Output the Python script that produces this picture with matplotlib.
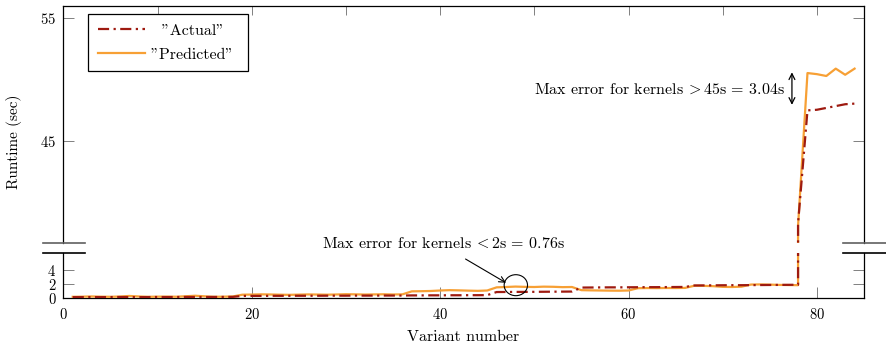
import matplotlib
matplotlib.use("Agg")
import matplotlib.pyplot as plt
from matplotlib.lines import Line2D
from matplotlib.patches import Ellipse

plt.rcParams['font.family'] = ['cmr10', 'DejaVu Serif']
plt.rcParams['mathtext.fontset'] = 'cm'
plt.rcParams['axes.formatter.use_mathtext'] = True
plt.rcParams['font.size'] = 10.5

# data (the jump to the long kernels happens right at variant 78)
variant = [1, 2, 3, 4, 5, 6, 7, 8, 9, 10, 11, 12, 13, 14, 15, 16, 17, 18,
           19, 20, 21, 22, 23, 24, 25, 26, 27, 28, 29, 30, 31, 32, 33, 34, 35, 36,
           37, 38, 39, 40, 41, 42, 43, 44, 45,
           46, 47, 48, 49, 50, 51, 52, 53, 54,
           55, 56, 57, 58, 59, 60, 61, 62, 63, 64, 65, 66,
           67, 68, 69, 70, 71, 72, 73, 74, 75, 76, 77, 78,
           78,
           79, 80, 81, 82, 83, 84]
actual = [0.05, 0.05, 0.06, 0.05, 0.06, 0.07, 0.06, 0.05, 0.06, 0.07, 0.06, 0.07, 0.08, 0.07, 0.07, 0.08, 0.08, 0.09,
          0.22, 0.23, 0.23, 0.24, 0.24, 0.24, 0.25, 0.25, 0.25, 0.26, 0.26, 0.26, 0.27, 0.27, 0.27, 0.28, 0.28, 0.28,
          0.30, 0.30, 0.31, 0.31, 0.32, 0.32, 0.33, 0.33, 0.34,
          0.78, 0.79, 0.80, 0.80, 0.81, 0.82, 0.83, 0.84, 0.85,
          1.42, 1.43, 1.44, 1.45, 1.45, 1.46, 1.47, 1.48, 1.48, 1.49, 1.50, 1.51,
          1.72, 1.73, 1.74, 1.75, 1.76, 1.76, 1.77, 1.78, 1.79, 1.80, 1.81, 1.82,
          38.3,
          47.5, 47.55, 47.7, 47.85, 48.0, 48.05]
predicted = [0.10, 0.12, 0.15, 0.12, 0.10, 0.14, 0.22, 0.15, 0.10, 0.12, 0.13, 0.11, 0.18, 0.25, 0.17, 0.10, 0.12, 0.15,
             0.40, 0.42, 0.45, 0.43, 0.40, 0.38, 0.41, 0.44, 0.42, 0.40, 0.43, 0.47, 0.45, 0.42, 0.44, 0.46, 0.43, 0.45,
             0.88, 0.90, 0.93, 1.00, 1.05, 1.02, 0.98, 0.95, 1.00,
             1.45, 1.50, 1.56, 1.52, 1.50, 1.55, 1.53, 1.48, 1.50,
             1.05, 1.02, 1.00, 0.98, 0.97, 1.00,
             1.33, 1.35, 1.34, 1.36, 1.35, 1.37,
             1.68, 1.66, 1.62, 1.52, 1.50, 1.55,
             1.85, 1.87, 1.84, 1.80, 1.78, 1.76,
             38.1,
             50.54, 50.45, 50.3, 50.9, 50.4, 50.9]

red = '#9e1a10'
orange = '#f7a035'
gray = '#808080'

W, H = 886, 346
fig = plt.figure(figsize=(W / 100, H / 100), dpi=100)

def box(l, t, r, b):
    return [l / W, 1 - b / H, (r - l) / W, (b - t) / H]

ax_top = fig.add_axes(box(63.3, 6, 864, 243))
ax_bot = fig.add_axes(box(63.3, 253, 864, 297.5))

for ax in (ax_top, ax_bot):
    ax.plot(variant, predicted, color=orange, lw=1.6, label='"Predicted" ', zorder=3)
    ax.plot(variant, actual, color=red, lw=1.6, dashes=[5, 2, 1, 2], label='  "Actual"', zorder=4)
    ax.set_xlim(0, 85)
    for s in ax.spines.values():
        s.set_linewidth(0.9)

ax_top.set_ylim(36.7, 56)
ax_top.spines['bottom'].set_visible(False)
ax_top.set_yticks([45, 55])
ax_top.set_xticks(range(10, 81, 10))
ax_top.tick_params(axis='y', direction='in', length=8, width=0.7, color=gray, left=True, right=True, pad=5)
ax_top.tick_params(axis='x', direction='in', length=6.5, width=0.7, color=gray, bottom=False, top=True,
                   labelbottom=False)

ax_bot.set_ylim(0, 6.36)
ax_bot.spines['top'].set_visible(False)
ax_bot.set_yticks([0, 2, 4])
ax_bot.set_xticks([0, 20, 40, 60, 80])
ax_bot.tick_params(axis='y', direction='in', length=8, width=0.7, color=gray, left=True, right=True, pad=5)
ax_bot.tick_params(axis='x', direction='in', length=8, width=0.7, color=gray, pad=7)

# legend (actual first)
h, l = ax_top.get_legend_handles_labels()
leg = ax_top.legend([h[1], h[0]], [l[1], l[0]], loc='upper left', bbox_to_anchor=(0.0308, 0.966),
                    borderaxespad=0, frameon=True, fancybox=False, edgecolor='black', framealpha=1,
                    handlelength=3.0, handletextpad=0.35, borderpad=0.6, labelspacing=0.6,
                    fontsize=11.5)
leg.get_frame().set_linewidth(0.9)

# break marks
for xs in ((43, 85), (843, 886)):
    fig.add_artist(Line2D([xs[0] / W, xs[1] / W], [1 - 243 / H] * 2, color='#606060', lw=1.2))
    fig.add_artist(Line2D([xs[0] / W, xs[1] / W], [1 - 253 / H] * 2, color='black', lw=1.2))

# annotations
ax_top.annotate('', xy=(77.35, 50.6), xytext=(77.35, 47.95),
                arrowprops=dict(arrowstyle='<->', lw=0.9, color='black', shrinkA=0, shrinkB=0))
ax_top.text(76.6, 49.2, r'Max error for kernels $\!>$45s = 3.04s', ha='right', va='center',
            fontsize=11.5)

ax_bot.annotate('', xy=(47.0, 2.1), xytext=(42.7, 5.5), annotation_clip=False,
                arrowprops=dict(arrowstyle='->', lw=0.8, color='black', shrinkA=0, shrinkB=0))
ax_bot.add_patch(Ellipse((48.04, 1.76), 2.48, 3.0, fill=False, lw=0.8, ec='black', clip_on=False, zorder=5))
fig.text(443 / W, 1 - 244 / H, r'Max error for kernels $\!<$2s = 0.76s', ha='center', va='center',
         fontsize=11.5)

fig.text(14 / W, 1 - 142 / H, 'Runtime (sec)', rotation=90, ha='center', va='center', fontsize=11)
fig.text(463.5 / W, 1 - 337 / H, 'Variant number', ha='center', va='center', fontsize=11.5)

fig.savefig('out.png', dpi=100)
